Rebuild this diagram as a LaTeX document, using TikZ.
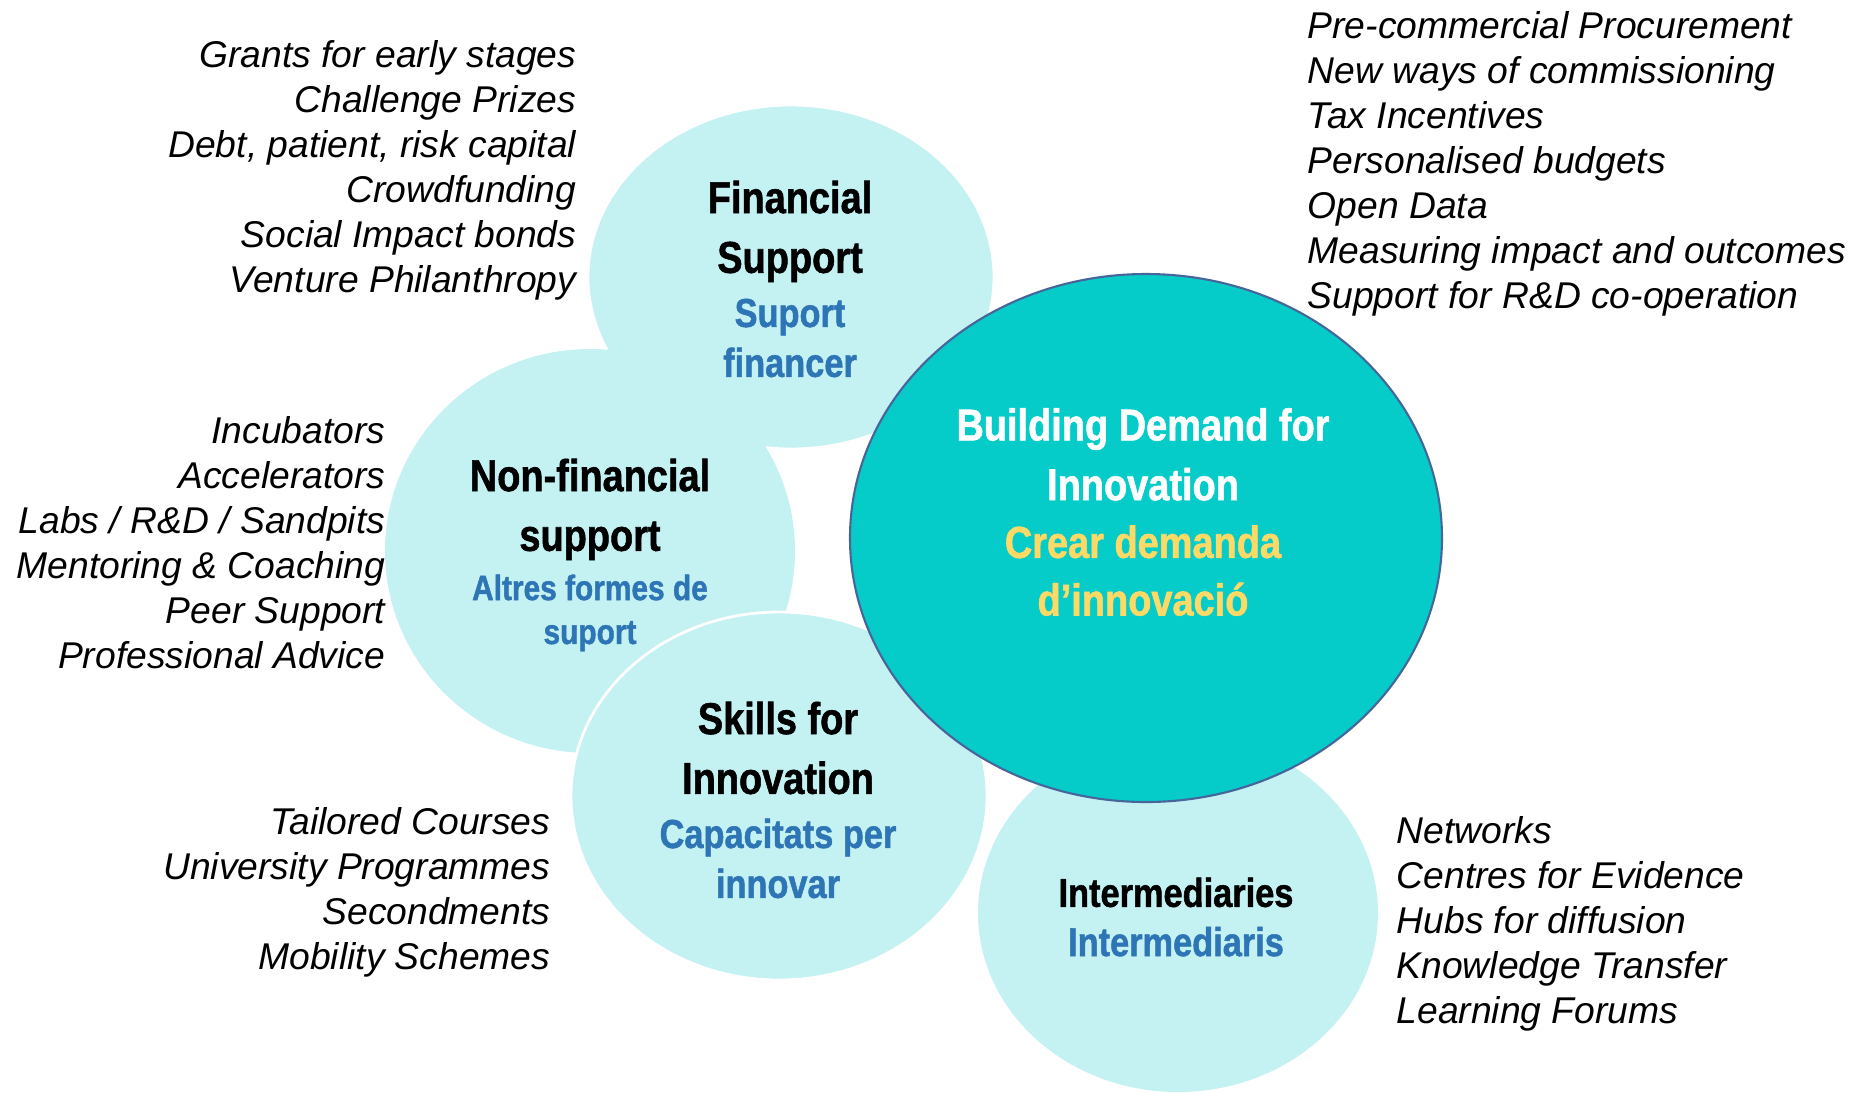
\documentclass[tikz,border=0pt]{standalone}
\usepackage{fontspec}
\usepackage{tikz}
\usetikzlibrary{shapes.geometric}
\setmainfont{Liberation Sans}
\newfontfamily\condfont[FakeStretch=0.85,FakeBold=1.2]{Liberation Sans Bold}

\definecolor{paleaqua}{HTML}{C4F1F2}
\definecolor{deepaqua}{HTML}{05CCC9}
\definecolor{rimblue}{HTML}{46659A}
\definecolor{catblue}{HTML}{2E75B6}
\definecolor{catgold}{HTML}{FFD966}

\newcommand{\ttlsize}{\fontsize{12.7}{17}\selectfont}
\newcommand{\subsize}{\fontsize{11.5}{14.2}\selectfont}
\newcommand{\smlsize}{\fontsize{10}{12.5}\selectfont}

\begin{document}
\begin{tikzpicture}[x=0.1mm, y=-0.1mm,
  bubble/.style={ellipse, fill=paleaqua, draw=white, line width=0.8pt, inner sep=0pt},
  core/.style={ellipse, fill=deepaqua, draw=rimblue, line width=0.6pt, inner sep=0pt},
  heading/.style={align=center, font=\condfont\ttlsize, inner sep=0pt},
  itemlist/.style={font=\itshape\fontsize{10.6}{12.8}\selectfont, inner sep=0pt}]
  \useasboundingbox (0,0) rectangle (1865,1092);

  % Circles
  \node[bubble, minimum width=40.6mm, minimum height=34.4mm] (fin) at (791,277) {};
  \node[bubble, draw=none, minimum width=41mm, minimum height=40.4mm] (nonfin) at (590,551) {};
  \node[bubble, minimum width=41.6mm, minimum height=36.8mm] (skills) at (779,796) {};
  \node[bubble, draw=none, minimum width=40mm, minimum height=35.8mm] (inter) at (1178,913) {};
  \node[core, minimum width=59.2mm, minimum height=52.8mm] (demand) at (1146,538) {};

  % Headings
  \node[heading] (fintxt) at (790,279) {Financial\\Support\\[-1.6pt]%
    {\subsize\color{catblue}Suport}\\[-2.8pt]{\subsize\color{catblue}financer}};
  \node[heading] (nonfintxt) at (590,555) {Non-financial\\support\\[-3pt]%
    {\smlsize\color{catblue}Altres formes de}\\[-4.5pt]{\smlsize\color{catblue}suport}};
  \node[heading] (skillstxt) at (778,800) {Skills for\\Innovation\\[-1.6pt]%
    {\subsize\color{catblue}Capacitats per}\\[-2.8pt]{\subsize\color{catblue}innovar}};
  \node[heading, font=\condfont\subsize] (intertxt) at (1176,917) {Intermediaries\\[-0.2pt]%
    {\color{catblue}Intermediaris}};
  \node[heading, text=white] (demandtxt) at (1143,512) {Building Demand for\\Innovation\\[-0.6pt]%
    {\color{catgold}Crear demanda}\\[-0.6pt]{\color{catgold}d’innovació}};

  % Lists
  \node[itemlist, align=right, anchor=east] (finlist) at (577,170) {Grants for early stages\\
    Challenge Prizes\\Debt, patient, risk capital\\Crowdfunding\\Social Impact bonds\\Venture Philanthropy};
  \node[itemlist, align=right, anchor=east] (nonfinlist) at (386,543) {Incubators\\Accelerators\\
    Labs / R\&D / Sandpits\\Mentoring \& Coaching\\Peer Support\\Professional Advice};
  \node[itemlist, align=right, anchor=east] (skillslist) at (551,892) {Tailored Courses\\
    University Programmes\\Secondments\\Mobility Schemes};
  \node[itemlist, align=left, anchor=west] (demandlist) at (1307,164) {Pre-commercial Procurement\\
    New ways of commissioning\\Tax Incentives\\Personalised budgets\\Open Data\\
    Measuring impact and outcomes\\Support for R\&D co-operation};
  \node[itemlist, align=left, anchor=west] (interlist) at (1396,924) {Networks\\Centres for Evidence\\
    Hubs for diffusion\\Knowledge Transfer\\Learning Forums};
\end{tikzpicture}
\end{document}
